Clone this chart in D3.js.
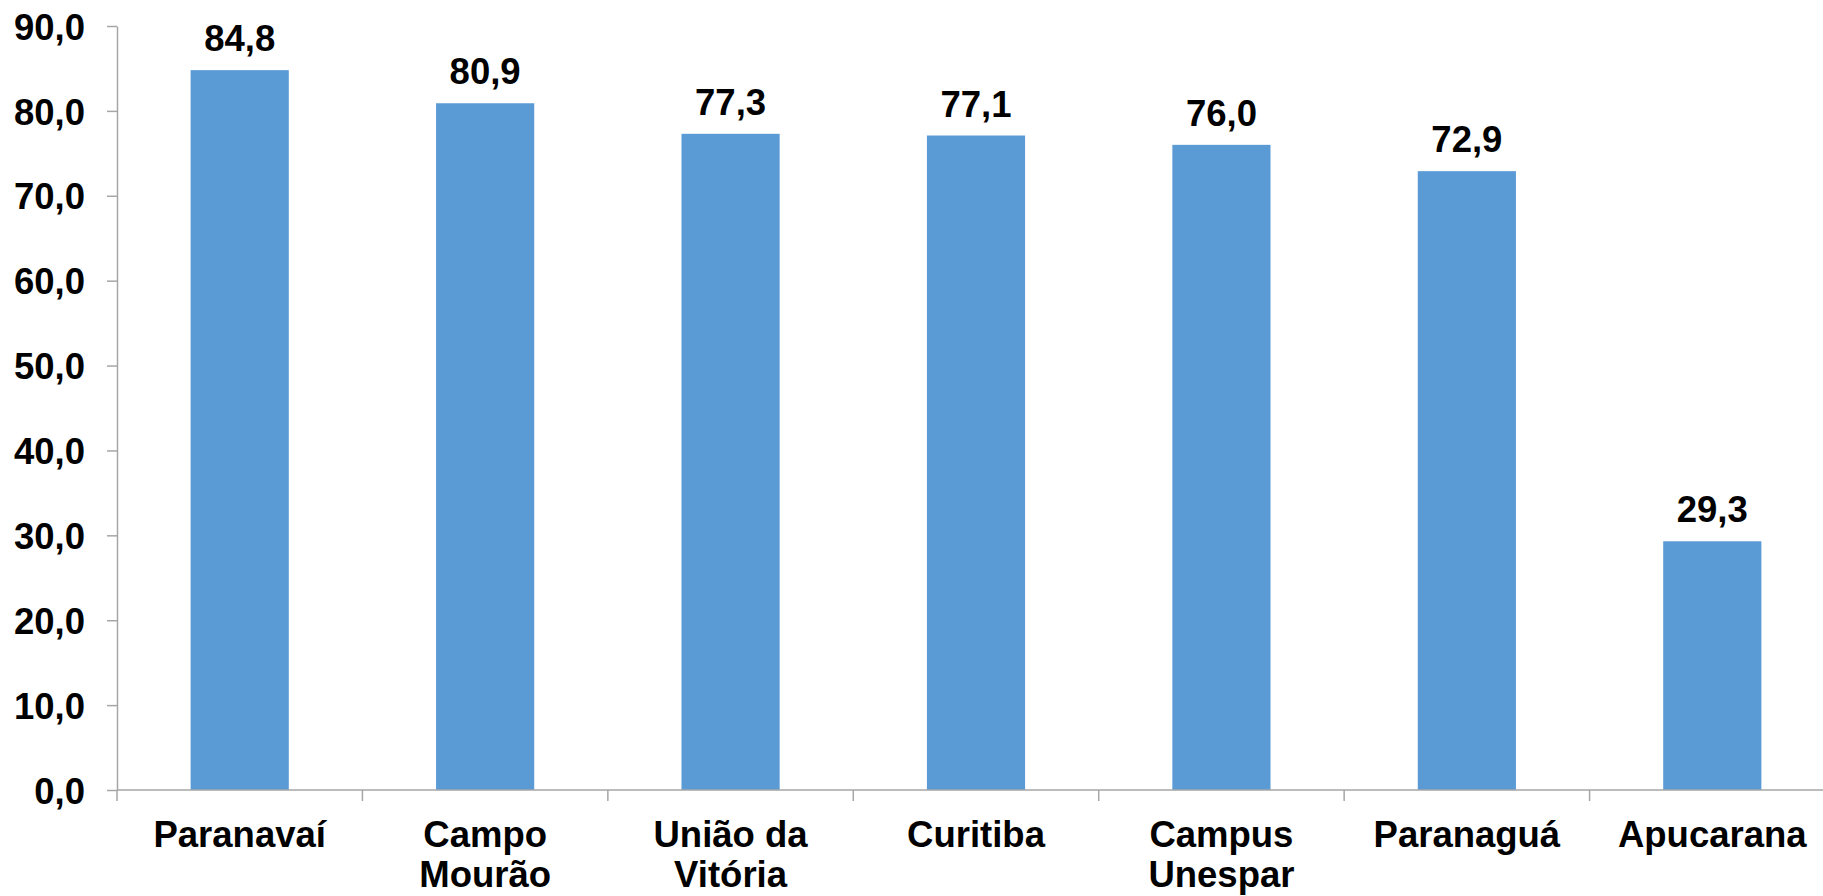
<!DOCTYPE html>
<html>
<head>
<meta charset="utf-8">
<script src="https://cdn.jsdelivr.net/npm/d3@7"></script>
<style>
    html, body { margin: 0; padding: 0; background: #ffffff; overflow: hidden; }
    text { font-family: "Liberation Sans", Arial, sans-serif; font-weight: bold; fill: #000000; }
</style>
</head>
<body>
<div id="chart"></div>
<script>
// campus names (each inner array is one line of the label)
const campusLines = [
    ['Paranavaí'],
    ['Campo', 'Mourão'],
    ['União da', 'Vitória'],
    ['Curitiba'],
    ['Campus', 'Unespar'],
    ['Paranaguá'],
    ['Apucarana'],
];
const campusValues = [84.8, 80.9, 77.3, 77.1, 76.0, 72.9, 29.3];
const yTicks = [0, 10, 20, 30, 40, 50, 60, 70, 80, 90];

const width = 1823;
const height = 896;
const fontSize = '36.5px';
const fmt = (v) => v.toFixed(1).replace('.', ',');

const svg = d3.select('#chart')
    .append('svg')
    .attr('width', width)
    .attr('height', height);

// plot area runs a little past the right edge, like the original
const x = d3.scaleBand()
    .domain(campusLines.map((d, i) => i))
    .range([117, 1835])
    .paddingInner(0.6)
    .paddingOuter(0.3);

const y = d3.scaleLinear()
    .domain([0, 90])
    .range([790, 26]);

// bars
svg.append('g')
    .selectAll('rect')
    .data(campusValues)
    .enter()
    .append('rect')
    .attr('x', (d, i) => x(i))
    .attr('y', (d) => y(d))
    .attr('width', x.bandwidth())
    .attr('height', (d) => y(0) - y(d))
    .attr('fill', '#5b9bd5');

// value labels
svg.append('g')
    .selectAll('text')
    .data(campusValues)
    .enter()
    .append('text')
    .attr('x', (d, i) => x(i) + x.bandwidth() / 2)
    .attr('y', (d) => y(d) - 19)
    .attr('text-anchor', 'middle')
    .style('font-size', fontSize)
    .text(fmt);

// y axis
const yAxis = svg.append('g')
    .attr('transform', 'translate(117,0)')
    .call(d3.axisLeft(y).tickValues(yTicks).tickSize(10).tickSizeOuter(0).tickPadding(22).tickFormat(fmt));

yAxis.select('.domain').attr('stroke', '#a6a6a6').attr('stroke-width', 1.5);
yAxis.selectAll('.tick line').attr('stroke', '#a6a6a6').attr('stroke-width', 1.5);
yAxis.selectAll('.tick text')
    .attr('dy', '0.36em')
    .style('font-size', fontSize)
    .style('font-family', '"Liberation Sans", Arial, sans-serif')
    .style('font-weight', 'bold')
    .attr('fill', '#000');

// x axis: baseline + category separators
const xAxis = svg.append('g');
xAxis.append('line')
    .attr('x1', 117)
    .attr('x2', width)
    .attr('y1', y(0))
    .attr('y2', y(0))
    .attr('stroke', '#a6a6a6')
    .attr('stroke-width', 1.5);

const gap = (x.step() - x.bandwidth()) / 2;
const edges = campusLines.map((d, i) => x(i) - gap);
xAxis.selectAll('line.sep')
    .data(edges)
    .enter()
    .append('line')
    .attr('class', 'sep')
    .attr('x1', (d) => d)
    .attr('x2', (d) => d)
    .attr('y1', y(0))
    .attr('y2', y(0) + 11)
    .attr('stroke', '#a6a6a6')
    .attr('stroke-width', 1.5);

// category labels
const labels = svg.append('g')
    .selectAll('text')
    .data(campusLines)
    .enter()
    .append('text')
    .attr('text-anchor', 'middle')
    .style('font-size', fontSize);

labels.selectAll('tspan')
    .data((lines, i) => lines.map((line) => ({ line, i })))
    .enter()
    .append('tspan')
    .attr('x', (d) => x(d.i) + x.bandwidth() / 2)
    .attr('y', (d, k) => 847 + k * 40)
    .text((d) => d.line);
</script>
</body>
</html>
